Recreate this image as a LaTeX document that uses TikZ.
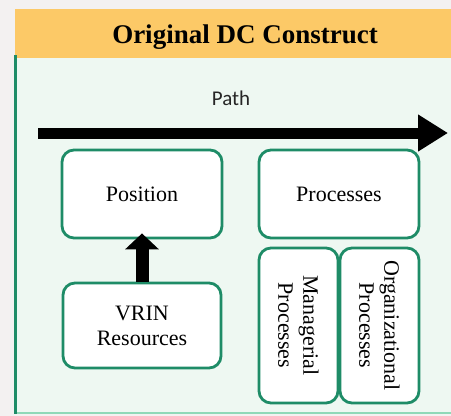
\documentclass[tikz,border=0pt]{standalone}
\usepackage{fontspec}
\setmainfont{Liberation Serif}
\newfontfamily\pathfont{Carlito}
\usetikzlibrary{arrows.meta,positioning,calc}
\definecolor{pagegray}{HTML}{F3F1F1}
\definecolor{bandorange}{HTML}{FCC967}
\definecolor{panelgreen}{HTML}{EEF8F2}
\definecolor{edgegreen}{HTML}{1E8C67}
\definecolor{lightedge}{HTML}{8FD9B8}
\tikzset{
  title/.style={font=\fontsize{27}{30}\selectfont\bfseries, text=black, anchor=base},
  pathlabel/.style={font=\pathfont\fontsize{21}{24}\selectfont, text=black!85, anchor=base},
  stagebox/.style={draw=edgegreen, fill=white, rounded corners=12pt, line width=2.8pt,
    align=center, inner sep=2pt, font=\fontsize{22}{25}\selectfont},
  tallbox/.style={stagebox, rotate=-90, minimum width=155pt, minimum height=79pt},
  patharrow/.style={-{Triangle[width=35pt,length=30pt]}, line width=11pt, draw=black},
  liftarrow/.style={-{Triangle[width=33pt,length=16pt]}, line width=13pt, draw=black}
}
\begin{document}
\begin{tikzpicture}[x=1pt,y=-1pt]
\useasboundingbox (0,0) rectangle (451,416);
\fill[pagegray] (0,0) rectangle (451,416);

% title band and panel
\fill[bandorange] (15,9) rectangle (451,58);
\node[title] (head) at (245,43) {Original DC Construct};
\fill[panelgreen] (15,58) rectangle (451,413);
\draw[lightedge, line width=1.5pt] (15,413) -- (451,413);
\draw[edgegreen, line width=3pt] (15,55) -- (15,414);

% path along the top
\node[pathlabel] (pathtxt) at (231,105) {Path};
\coordinate (pathstart) at (38,133);
\coordinate (pathend) at (448,133);
\draw[patharrow] (pathstart) -- (pathend);

% boxes
\node[stagebox, minimum width=160pt, minimum height=88pt] (position) at (142,194) {Position};
\node[stagebox, minimum width=160pt, minimum height=88pt] (processes) at (339,194) {Processes};
\node[stagebox, minimum width=158pt, minimum height=85pt] (vrin) at (142,325.5) {VRIN\\Resources};
\node[tallbox] (managerial) at (298.5,325.5) {Managerial\\Processes};
\node[tallbox] (organizational) at (379.5,325.5) {Organizational\\Processes};

\draw[liftarrow] (vrin.north) -- ($(position.south)+(0,-6)$);
\end{tikzpicture}
\end{document}
